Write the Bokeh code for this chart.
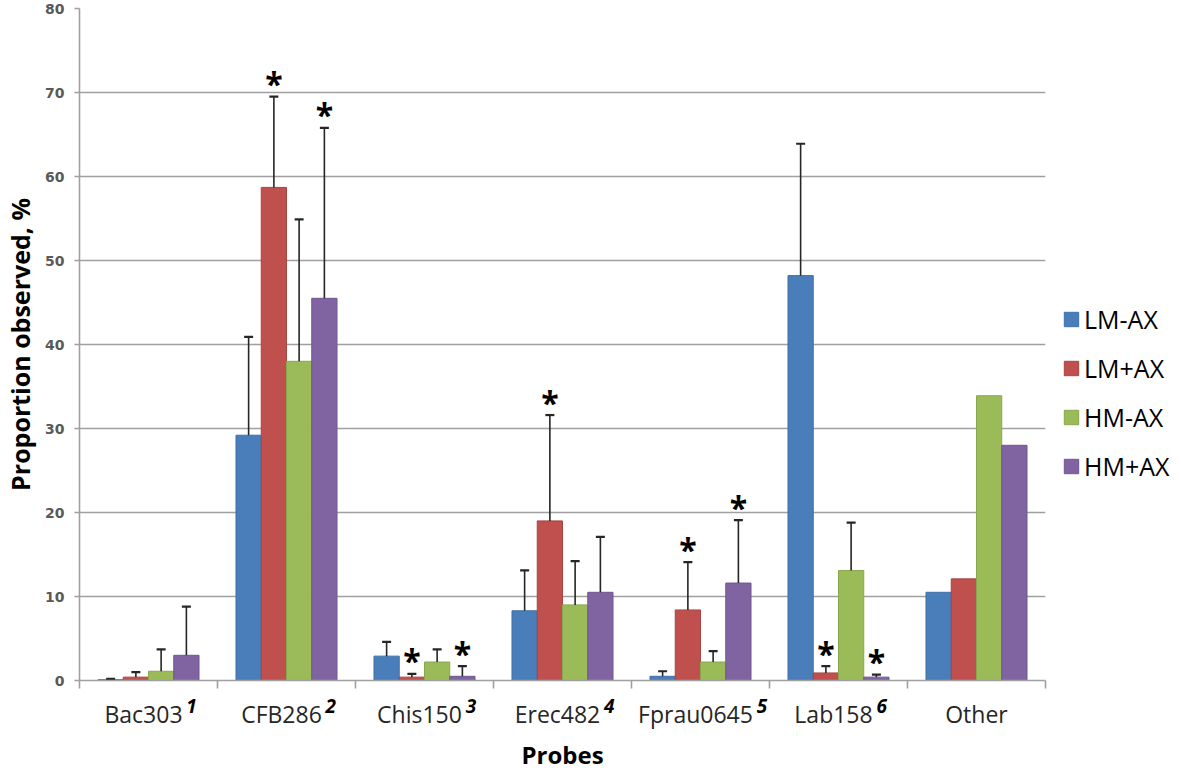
from bokeh.plotting import figure
from bokeh.models import (ColumnDataSource, Range1d, FixedTicker, Whisker, TeeHead,
                          Legend, LegendItem, LinearAxis)
from bokeh.transform import dodge
from bokeh.core.properties import value
from bokeh.embed import file_html
from bokeh.resources import INLINE

# ---------------- data ----------------
probes = ["Bac303", "CFB286", "Chis150", "Erec482", "Fprau0645", "Lab158", "Other"]
probe_notes = ["1", "2", "3", "4", "5", "6", ""]
series = ["LM-AX", "LM+AX", "HM-AX", "HM+AX"]

lm_minus_ax = [0.1, 29.2, 2.9, 8.3, 0.5, 48.2, 10.5]
lm_plus_ax = [0.4, 58.7, 0.4, 19.0, 8.4, 0.9, 12.1]
hm_minus_ax = [1.1, 38.0, 2.2, 9.0, 2.2, 13.1, 33.9]
hm_plus_ax = [3.0, 45.5, 0.5, 10.5, 11.6, 0.4, 28.0]

# standard deviations (upper error bar lengths); None = no error bar
lm_minus_ax_sd = [0.1, 11.7, 1.7, 4.8, 0.6, 15.7, None]
lm_plus_ax_sd = [0.6, 10.8, 0.4, 12.6, 5.7, 0.8, None]
hm_minus_ax_sd = [2.6, 16.9, 1.5, 5.2, 1.3, 5.7, None]
hm_plus_ax_sd = [5.8, 20.3, 1.2, 6.6, 7.5, 0.3, None]

# significance stars
lm_minus_ax_sig = [False, False, False, False, False, False, False]
lm_plus_ax_sig = [False, True, True, True, True, True, False]
hm_minus_ax_sig = [False, False, False, False, False, False, False]
hm_plus_ax_sig = [False, True, True, False, True, True, False]

y_ticks = [0, 10, 20, 30, 40, 50, 60, 70, 80]

values = [lm_minus_ax, lm_plus_ax, hm_minus_ax, hm_plus_ax]
sds = [lm_minus_ax_sd, lm_plus_ax_sd, hm_minus_ax_sd, hm_plus_ax_sd]
sigs = [lm_minus_ax_sig, lm_plus_ax_sig, hm_minus_ax_sig, hm_plus_ax_sig]
colors = ["#4A7EBB", "#C0504D", "#9BBB59", "#8064A2"]
edge_colors = ["#3F6FA8", "#A94441", "#88A74C", "#6F5690"]

# ---------------- figure ----------------
n = len(probes)
centers = [i + 0.5 for i in range(n)]
FRAME_W = 966
px_per_unit = FRAME_W / n

p = figure(frame_width=FRAME_W, frame_height=672, x_range=Range1d(0, n), y_range=Range1d(0, 80),
           output_backend="svg", toolbar_location=None,
           min_border_left=69, min_border_top=8, min_border_right=130,
           min_border_bottom=20, x_axis_location=None)
p.outline_line_color = None
p.background_fill_color = "white"
p.border_fill_color = "white"

grid_col = "#A0A0A0"
p.xgrid.visible = False
p.ygrid.grid_line_color = grid_col
p.ygrid.grid_line_width = 1.6

# y axis
p.yaxis.ticker = FixedTicker(ticks=y_ticks)
p.yaxis.axis_line_color = grid_col
p.yaxis.axis_line_width = 1.6
p.yaxis.major_tick_line_color = grid_col
p.yaxis.major_tick_line_width = 1.6
p.yaxis.major_tick_in = 0
p.yaxis.major_tick_out = 5
p.yaxis.minor_tick_line_color = None
p.yaxis.major_label_text_font = "DejaVu Sans"
p.yaxis.major_label_text_font_style = "bold"
p.yaxis.major_label_text_font_size = "14px"
p.yaxis.major_label_text_color = "#595959"
p.yaxis.major_label_standoff = 10
p.yaxis.axis_label = "Proportion observed, %"
p.yaxis.axis_label_text_font = "Open Sans"
p.yaxis.axis_label_text_font_style = "bold"
p.yaxis.axis_label_text_font_size = "25px"
p.yaxis.axis_label_text_color = "#000000"
p.yaxis.axis_label_standoff = 5

# x axis: category names, tick marks between categories
char_w = {"B": .642, "a": .556, "c": .476, "3": .572, "0": .572, "C": .628, "F": .519,
          "2": .572, "8": .572, "6": .572, "h": .614, "i": .253, "s": .477, "1": .572,
          "5": .572, "E": .547, "r": .408, "e": .561, "4": .572, "p": .613, "u": .614,
          "L": .531, "b": .613, "O": .778, "t": .352}
LABEL_PX = 23
shift = -5 / px_per_unit
name_pos = [round(c + (shift if note else 0), 5) for c, note in zip(centers, probe_notes)]

xaxis = LinearAxis(ticker=FixedTicker(ticks=name_pos, minor_ticks=list(range(n + 1))))
xaxis.major_label_overrides = {x: lab for x, lab in zip(name_pos, probes)}
xaxis.axis_line_color = grid_col
xaxis.axis_line_width = 1.6
xaxis.major_tick_line_color = None
xaxis.major_tick_out = 8
xaxis.major_tick_in = 0
xaxis.minor_tick_line_color = grid_col
xaxis.minor_tick_line_width = 1.6
xaxis.minor_tick_out = 8
xaxis.minor_tick_in = 0
xaxis.major_label_text_font = "Open Sans"
xaxis.major_label_text_font_size = "%dpx" % LABEL_PX
xaxis.major_label_text_color = "#262626"
xaxis.major_label_standoff = 9
p.add_layout(xaxis, "below")

# second axis row: superscript notes next to category names, plus the axis title
note_pos, note_txt = [], []
for x, lab, note in zip(name_pos, probes, probe_notes):
    if note:
        wpx = sum(char_w.get(ch, .57) for ch in lab) * LABEL_PX
        note_pos.append(round(x + (wpx / 2 + 9) / px_per_unit, 5))
        note_txt.append(note)
naxis = LinearAxis(ticker=FixedTicker(ticks=note_pos, minor_ticks=[]))
naxis.major_label_overrides = {x: t for x, t in zip(note_pos, note_txt)}
naxis.axis_line_color = None
naxis.major_tick_line_color = None
naxis.minor_tick_line_color = None
naxis.major_tick_out = 0
naxis.major_tick_in = 0
naxis.major_label_text_font = "Open Sans"
naxis.major_label_text_font_style = "bold italic"
naxis.major_label_text_font_size = "19px"
naxis.major_label_text_color = "#000000"
naxis.major_label_standoff = -34
naxis.axis_label = "Probes"
naxis.axis_label_text_font = "Open Sans"
naxis.axis_label_text_font_style = "bold"
naxis.axis_label_text_font_size = "24px"
naxis.axis_label_text_color = "#000000"
naxis.axis_label_standoff = 22
p.add_layout(naxis, "below")

# ---------------- bars ----------------
data = {"probe": probes, "xc": centers}
for k, s in enumerate(series):
    data["v%d" % k] = values[k]
src = ColumnDataSource(data)

bar_w = 0.183
offsets = [-1.5 * bar_w, -0.5 * bar_w, 0.5 * bar_w, 1.5 * bar_w]

items = []
for k, s in enumerate(series):
    r = p.vbar(x=dodge("xc", offsets[k], range=p.x_range), top="v%d" % k, width=bar_w,
               source=src, fill_color=colors[k], line_color=edge_colors[k], line_width=1)
    items.append(LegendItem(label=s, renderers=[r]))

    # error bars
    ex, lo, up = [], [], []
    sx, sy = [], []
    for i in range(n):
        if sds[k][i] is not None:
            ex.append(centers[i])
            lo.append(values[k][i])
            up.append(values[k][i] + sds[k][i])
            if sigs[k][i]:
                sx.append(centers[i])
                sy.append(values[k][i] + sds[k][i])
    esrc = ColumnDataSource({"xc": ex, "lower": lo, "upper": up})
    w = Whisker(base=dodge("xc", offsets[k], range=p.x_range), lower="lower", upper="upper",
                source=esrc, line_color="#262626", line_width=1.6,
                upper_head=TeeHead(size=9, line_color="#262626", line_width=2.2),
                lower_head=None, level="glyph")
    p.add_layout(w)

    if sx:
        ssrc = ColumnDataSource({"xc": sx, "y": sy, "t": ["*"] * len(sx)})
        p.text(x=dodge("xc", offsets[k], range=p.x_range), y="y", text="t", source=ssrc,
               text_font=value("Open Sans"), text_font_style="bold",
               text_font_size="32px", text_align="center",
               text_baseline="alphabetic", text_color="#000000", y_offset=-13)

legend = Legend(items=items, location=(17, 197), orientation="vertical",
                glyph_width=18, glyph_height=18, label_height=30, spacing=15,
                label_standoff=4, padding=0, margin=0,
                label_text_font="Open Sans", label_text_font_size="25px",
                label_text_color="#000000", border_line_color=None,
                background_fill_alpha=0)
p.add_layout(legend, "right")

open("out.html", "w").write(file_html(p, INLINE))
